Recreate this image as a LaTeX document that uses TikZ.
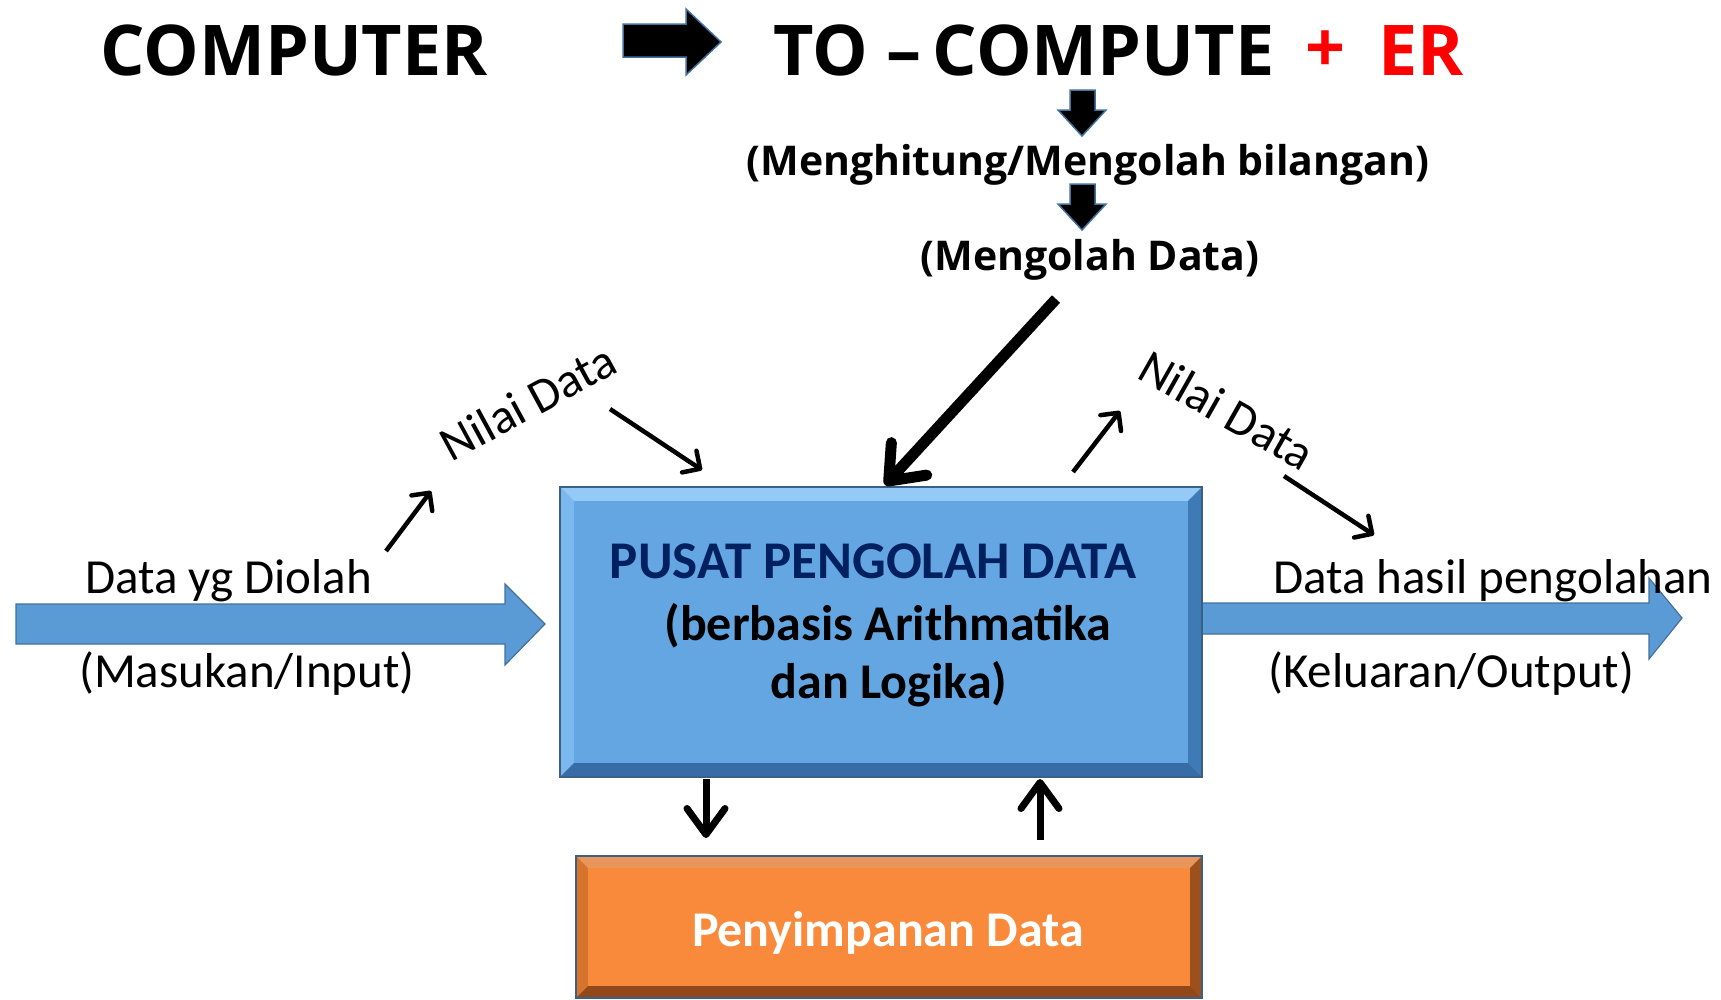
\documentclass[tikz,border=0pt]{standalone}
\usepackage{fontspec}
\setmainfont{Carlito}
\newfontfamily\hdrfont{Open Sans}
\usetikzlibrary{arrows.meta,calc}

\definecolor{boxblue}{RGB}{100,166,226}
\definecolor{bevtop}{RGB}{150,202,246}
\definecolor{bevleft}{RGB}{122,184,238}
\definecolor{bevright}{RGB}{62,122,182}
\definecolor{bevbot}{RGB}{56,108,166}
\definecolor{boxedge}{RGB}{58,96,136}
\definecolor{flowblue}{RGB}{91,155,213}
\definecolor{flowedge}{RGB}{65,113,156}
\definecolor{store}{RGB}{249,138,59}
\definecolor{otop}{RGB}{232,150,92}
\definecolor{oleft}{RGB}{214,116,46}
\definecolor{oright}{RGB}{158,80,28}
\definecolor{obot}{RGB}{146,72,24}
\definecolor{titlenavy}{RGB}{0,32,96}

\tikzset{
  hdr/.style={font=\hdrfont\bfseries\fontsize{70}{80}\selectfont, inner sep=0pt},
  sub/.style={font=\hdrfont\bfseries\fontsize{41}{48}\selectfont, inner sep=0pt},
  lbl/.style={font=\fontsize{49}{58}\selectfont, inner sep=0pt},
  boxtxt/.style={font=\bfseries\fontsize{50}{58}\selectfont, inner sep=0pt, align=center},
  titletxt/.style={font=\bfseries\fontsize{53}{60}\selectfont, inner sep=0pt},
  blockarrow/.style={fill=black, draw=flowedge, line width=1.5pt, line join=miter},
  flowarrow/.style={fill=flowblue, draw=flowedge, line width=1.2pt},
  thinarrow/.style={line width=4.5pt, -{Straight Barb[length=13pt,width=26pt,round]}},
  midarrow/.style={line width=7pt, -{Straight Barb[length=26pt,width=38pt,round]}},
  bigarrow/.style={line width=11pt, -{Straight Barb[length=30pt,width=48pt,round]}},
}

\begin{document}
\begin{tikzpicture}[x=1pt,y=-1pt]
\useasboundingbox (0,0) rectangle (1721,999);

% ---------- header line ----------
\node[hdr, anchor=base] (computer) at (294,75) {COMPUTER};
\node[hdr, anchor=base west] (tocompute) at (773,75) {TO –\,COMPUTE};
\node[hdr, text=red, anchor=center] (plus) at (1325,52) {+};
\node[hdr, text=red, anchor=base west] (er) at (1378,75) {ER};

% black block arrow between the two words
\draw[blockarrow] (623,24) -- (686,24) -- (686,9) -- (721,42) -- (686,75)
  -- (686,57) -- (623,57) -- cycle;

% ---------- meaning chain ----------
\node[sub, anchor=center] (hitung) at (1088,165) {(Menghitung/Mengolah bilangan)};
\node[sub, anchor=center] (olah) at (1090,260) {(Mengolah Data)};

\draw[blockarrow] (1070,90) -- (1095,90) -- (1095,110) -- (1106,110) -- (1082,136)
  -- (1058,110) -- (1070,110) -- cycle;
\draw[blockarrow] (1070,184) -- (1095,184) -- (1095,204) -- (1106,204) -- (1082,230)
  -- (1058,204) -- (1070,204) -- cycle;

% ---------- input / output flows ----------
\draw[flowarrow] (16,604) -- (505,604) -- (505,584) -- (545,624) -- (505,665)
  -- (505,644) -- (16,644) -- cycle;
\draw[flowarrow] (1202,603) -- (1649,603) -- (1649,578) -- (1682,618) -- (1649,659)
  -- (1649,634) -- (1202,634) -- cycle;

% ---------- processing unit ----------
\node[fill=boxblue, minimum width=642pt, minimum height=290pt, inner sep=0pt]
  (cpu) at (881,632) {};
\fill[bevtop] (cpu.north west) -- (cpu.north east) -- ($(cpu.north east)+(-14,14)$)
  -- ($(cpu.north west)+(14,14)$) -- cycle;
\fill[bevleft] (cpu.north west) -- ($(cpu.north west)+(14,14)$)
  -- ($(cpu.south west)+(14,-14)$) -- (cpu.south west) -- cycle;
\fill[bevright] (cpu.north east) -- (cpu.south east) -- ($(cpu.south east)+(-14,-14)$)
  -- ($(cpu.north east)+(-14,14)$) -- cycle;
\fill[bevbot] (cpu.south west) -- (cpu.south east) -- ($(cpu.south east)+(-14,-14)$)
  -- ($(cpu.south west)+(14,-14)$) -- cycle;
\draw[boxedge, line width=1.5pt] (cpu.north west) rectangle (cpu.south east);

\node[titletxt, text=titlenavy, anchor=base] (pusat) at (873,578) {PUSAT PENGOLAH DATA};
\node[boxtxt, anchor=base] (basis) at (888,640) {(berbasis Arithmatika};
\node[boxtxt, anchor=base] (logika) at (889,698) {dan Logika)};

% ---------- storage ----------
\node[fill=store, minimum width=626pt, minimum height=142pt, inner sep=0pt]
  (mem) at (889,927) {};
\fill[otop] (mem.north west) -- (mem.north east) -- ($(mem.north east)+(-12,12)$)
  -- ($(mem.north west)+(12,12)$) -- cycle;
\fill[oleft] (mem.north west) -- ($(mem.north west)+(12,12)$)
  -- ($(mem.south west)+(12,-12)$) -- (mem.south west) -- cycle;
\fill[oright] (mem.north east) -- (mem.south east) -- ($(mem.south east)+(-12,-12)$)
  -- ($(mem.north east)+(-12,12)$) -- cycle;
\fill[obot] (mem.south west) -- (mem.south east) -- ($(mem.south east)+(-12,-12)$)
  -- ($(mem.south west)+(12,-12)$) -- cycle;
\draw[boxedge, line width=1.5pt] (mem.north west) rectangle (mem.south east);
\node[boxtxt, text=white, anchor=base] (simpan) at (888,946) {Penyimpanan Data};

% ---------- labels ----------
\node[lbl, anchor=base west] (diolah) at (85,593) {Data yg Diolah};
\node[lbl, anchor=base west] (masukan) at (79,687) {(Masukan/Input)};
\node[lbl, anchor=base west] (hasil) at (1273,593) {Data hasil pengolahan};
\node[lbl, anchor=base west] (keluaran) at (1268,687) {(Keluaran/Output)};
\node[lbl, rotate=28.5] (nilaiin) at (528,402) {Nilai Data};
\node[lbl, rotate=-29.5] (nilaiout) at (1227,410) {Nilai Data};

% ---------- line connectors ----------
\coordinate (a1s) at (386,551);  \coordinate (a1e) at (431,491);
\coordinate (a2s) at (610,409);  \coordinate (a2e) at (702,470);
\coordinate (a3s) at (1073,472); \coordinate (a3e) at (1120,411);
\coordinate (a4s) at (1284,476); \coordinate (a4e) at (1374,535);
\coordinate (bigs) at (1056,299); \coordinate (bige) at (885,485);
\coordinate (downs) at (706,779); \coordinate (downe) at (706,838);
\coordinate (ups) at (1040,840);  \coordinate (upe) at (1040,779);

\draw[thinarrow] (a1s) -- (a1e);
\draw[thinarrow] (a2s) -- (a2e);
\draw[thinarrow] (a3s) -- (a3e);
\draw[thinarrow] (a4s) -- (a4e);
\draw[bigarrow] (bigs) -- (bige);
\draw[midarrow] (downs) -- (downe);
\draw[midarrow] (ups) -- (upe);
\end{tikzpicture}
\end{document}
